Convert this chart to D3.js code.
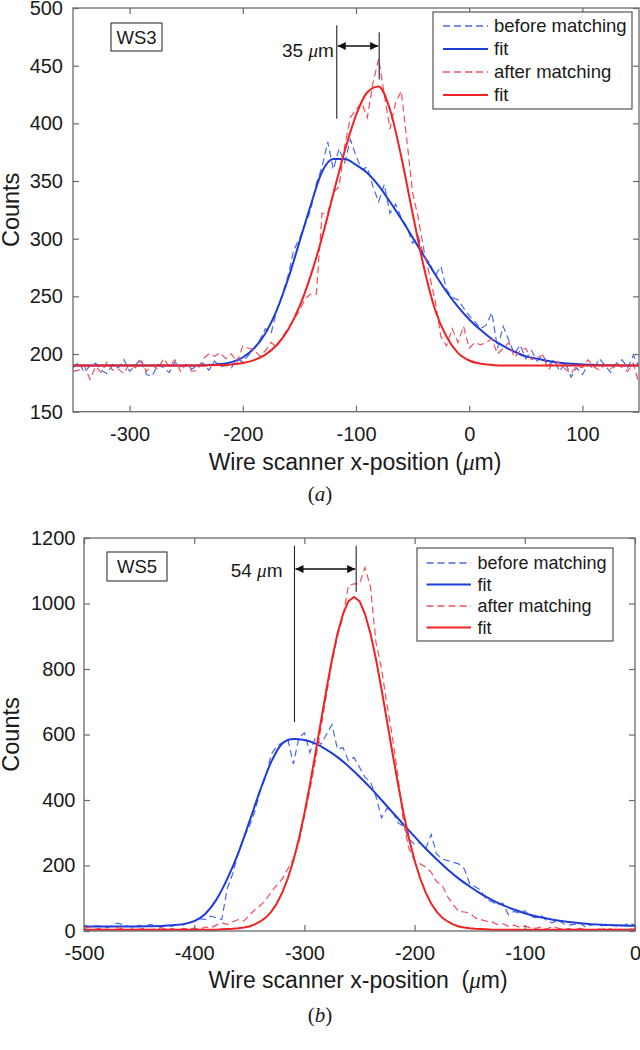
<!DOCTYPE html>
<html><head><meta charset="utf-8">
<script src="https://cdn.jsdelivr.net/npm/d3@7"></script>
<style>
body{margin:0;background:#fff;}
svg{display:block;font-family:"Liberation Sans",Arial,Helvetica,sans-serif;}
</style></head>
<body>
<svg id="chart" width="640" height="1050"></svg>
<script>
// ---------- Panel (a) WS3 ----------
const a_xStart = -350, a_step = 5;            // raw scan positions (µm)
const a_before = [
 188,193,184,190,192,186,183,191,188,195,
 185,190,196,182,181,191,188,184,193,189,
 191,187,190,192,186,194,189,190,188,196,
 193,199,205,212,222,218,238,252,268,290,
 300,312,325,348,362,384,360,378,366,386,
 372,360,362,345,332,347,322,330,318,310,
 296,302,285,279,268,276,256,249,247,240,
 233,228,222,225,236,205,224,212,200,208,
 196,203,194,199,190,195,185,193,180,188,
 182,191,187,196,190,184,192,195,188,199,
 189];
const a_after = [
 185,186,190,178,189,184,193,186,187,183,
 192,188,194,185,190,187,196,189,195,185,
 191,185,186,196,200,198,201,196,200,193,
 207,205,204,198,203,210,206,215,222,230,
 237,248,252,252,322,322,340,345,380,405,
 412,418,405,435,456,425,395,418,428,385,
 340,318,290,268,246,215,207,222,210,224,
 205,210,208,210,213,200,205,210,197,203,
 205,195,197,199,186,194,192,187,183,190,
 188,195,189,186,191,187,193,188,185,192,
 174];
const a_fitStart = -350, a_fitStep = 10;
const a_fitBefore = [
 190,190,190,190,190,190,190,190,190,190,190,190,
 190.5,191.3,193,197,205,218,238,265,297,329,358,369,369,364,357,346,332,317,301,285,269,254,241,
 230,221,213,207,202,198,196,194,192.5,191.6,191,190.6,190.3,190.2,190,190];
const a_fitAfter = [
 190,190,190,190,190,190,190,190,190,190,190,190,
 190.2,190.4,191,192.2,194.7,199.5,207.8,221,241,268,301,339,376,407,427,432,412,371,322,275,238,215,201,
 194.4,191.6,190.5,190,190,190,190,190,190,190,190,190,190,190,190,190];
const a_xTicks = [-300,-200,-100,0,100];
const a_yTicks = [150,200,250,300,350,400,450,500];
const a_peaks = [-117, -79.5];          // fitted centroids marked by the vertical lines
const a_peakTop = [485, 479];           // upper end of the marker lines (counts)
const a_peakBottom = [404, 438];        // lower end of the marker lines (counts)
const a_arrowY = 467, a_labelY = 457.5;

// ---------- Panel (b) WS5 ----------
const b_xStart = -500, b_step = 5;
const b_before = [
 18,12,16,14,10,15,24,20,14,12,
 17,13,20,16,12,18,14,22,18,26,
 30,38,35,45,40,35,130,175,240,285,
 320,365,430,470,540,565,575,585,510,590,
 605,545,590,570,600,630,555,560,520,530,
 500,470,455,410,345,375,365,330,320,280,
 265,270,250,295,235,220,215,210,205,190,
 145,135,125,95,90,80,85,50,60,55,
 62,45,40,48,30,25,35,22,18,20,
 25,12,18,20,16,22,18,14,17,24,
 18];
const b_after = [
 8,12,5,9,6,4,10,7,3,8,
 5,9,4,6,10,5,7,3,8,6,
 9,5,12,10,18,25,20,28,35,30,
 48,65,78,95,120,140,160,190,220,270,
 350,430,520,620,720,820,900,960,1055,1060,
 1060,1110,1050,880,800,690,590,470,330,250,
 215,205,195,180,150,140,105,80,60,58,
 55,40,35,30,28,20,22,15,18,12,
 15,10,8,12,6,14,9,5,7,4,
 8,6,3,7,5,9,4,6,3,7,
 5];
const b_fitBeforeStart = -500, b_fitBeforeStep = 10;
const b_fitBefore = [
 14,14,14,14,14,14,
 14.6,15.5,17.5,21,30,52,95,159,238,333,431,517,573,586,583,572,554,531,503,471,437,400,362,325,288,252,219,188,160,136,114,95,79,66,54,45,38,32,27.5,24,21,19,17.7,16.6,15.8];
const b_fitAfterStart = -500, b_fitAfterStep = 5;
const b_fitAfter = [
 4,4,4,4,4,4,4,4,4,4,4,4,4,4,4,4,4,4,4,4,4,4,4,4,4,
 5,6,7,8.5,10.6,14,20,29,41,59,84,118,161,215,281,359,447,542,640,738,829,908,968,1007,
 1020,1007,968,908,829,738,640,542,447,359,281,215,161,118,84,59,41,29,20,14,10.6,8.5,7,6,5,
 4,4,4,4,4,4,4,4,4,4,4,4,4,4,4,4,4,4,4,4,4,4,4,4,4,4,4];
const b_xTicks = [-500,-400,-300,-200,-100,0];
const b_yTicks = [0,200,400,600,800,1000,1200];
const b_peaks = [-309, -253];
const b_peakTop = [1176, 1176];
const b_peakBottom = [638, 1035];
const b_arrowY = 1105, b_labelY = 1081;

const legendLabels = ["before matching","fit","after matching","fit"];

// ---------- styles ----------
const C = {
  beforeDash: "#4a6ae4", beforeFit: "#1c3ddc",
  afterDash: "#f0505e", afterFit: "#f02222",
  frame: "#6a6a6a", text: "#1a1a1a"
};

const svg = d3.select("#chart");
const defs = svg.append("defs");
defs.append("marker").attr("id","arr").attr("viewBox","0 0 10 10")
  .attr("refX",10).attr("refY",5).attr("markerWidth",10).attr("markerHeight",8)
  .attr("markerUnits","userSpaceOnUse").attr("orient","auto-start-reverse")
  .append("path").attr("d","M0,0L10,5L0,10Z").attr("fill","#111");

const fmtTick = d => (d < 0 ? "-" + Math.abs(d) : String(d));

function panel(cfg, idx){
  const g = svg.append("g");
  const x = d3.scaleLinear().domain(cfg.xDomain).range([cfg.left, cfg.right]);
  const y = d3.scaleLinear().domain(cfg.yDomain).range([cfg.bottom, cfg.top]);

  defs.append("clipPath").attr("id","clip"+idx).append("rect")
    .attr("x",cfg.left).attr("y",cfg.top).attr("width",cfg.right-cfg.left).attr("height",cfg.bottom-cfg.top);

  const plot = g.append("g").attr("clip-path","url(#clip"+idx+")");
  const line = d3.line().x(d=>x(d[0])).y(d=>y(d[1]));
  const smooth = d3.line().x(d=>x(d[0])).y(d=>y(d[1])).curve(d3.curveMonotoneX);
  const pts = (vals, start, step) => vals.map((v,i)=>[start+i*step, v]);

  plot.append("path").datum(pts(cfg.before, cfg.xStart, cfg.step)).attr("d",line)
    .attr("fill","none").attr("stroke",C.beforeDash).attr("stroke-width",1.2).attr("stroke-dasharray","7,4");
  plot.append("path").datum(pts(cfg.fitBefore, cfg.fbStart, cfg.fbStep)).attr("d",smooth)
    .attr("fill","none").attr("stroke",C.beforeFit).attr("stroke-width",2);
  plot.append("path").datum(pts(cfg.after, cfg.xStart, cfg.step)).attr("d",line)
    .attr("fill","none").attr("stroke",C.afterDash).attr("stroke-width",1.2).attr("stroke-dasharray","7,4");
  plot.append("path").datum(pts(cfg.fitAfter, cfg.faStart, cfg.faStep)).attr("d",cfg.faSmooth?smooth:line)
    .attr("fill","none").attr("stroke",C.afterFit).attr("stroke-width",2);

  // frame
  g.append("rect").attr("x",cfg.left).attr("y",cfg.top)
    .attr("width",cfg.right-cfg.left).attr("height",cfg.bottom-cfg.top)
    .attr("fill","none").attr("stroke",C.frame).attr("stroke-width",1.3);

  // axes
  const styleAxis = sel => { sel.select(".domain").remove();
    sel.selectAll(".tick line").attr("stroke",C.frame).attr("stroke-width",1.2);
    sel.selectAll("text").attr("fill",C.text).style("font-size","20px")
      .style("font-family",'"Liberation Sans",Arial,sans-serif'); };
  g.append("g").attr("transform",`translate(0,${cfg.bottom})`)
    .call(d3.axisBottom(x).tickValues(cfg.xTicks).tickSize(-6).tickPadding(15).tickFormat(fmtTick))
    .call(styleAxis);
  g.append("g").attr("transform",`translate(0,${cfg.top})`)
    .call(d3.axisTop(x).tickValues(cfg.xTicks).tickSize(-6).tickFormat(()=>""))
    .call(styleAxis);
  g.append("g").attr("transform",`translate(${cfg.left},0)`)
    .call(d3.axisLeft(y).tickValues(cfg.yTicks).tickSize(-6).tickPadding(cfg.yPad).tickFormat(fmtTick))
    .call(styleAxis);
  g.append("g").attr("transform",`translate(${cfg.right},0)`)
    .call(d3.axisRight(y).tickValues(cfg.yTicks).tickSize(-6).tickFormat(()=>""))
    .call(styleAxis);

  // axis titles
  g.append("text").attr("transform",`translate(19,${(cfg.top+cfg.bottom)/2}) rotate(-90)`)
    .attr("text-anchor","middle").attr("fill",C.text).style("font-size","23.5px").text("Counts");
  const xt = g.append("text").attr("x",cfg.xTitleX).attr("y",cfg.xTitleY)
    .attr("text-anchor","middle").attr("fill",C.text).style("font-size","23px")
    .attr("xml:space","preserve");
  xt.append("tspan").text(cfg.xTitleText);
  xt.append("tspan").style("font-family",'"Liberation Serif","Times New Roman",serif').style("font-style","italic").text("\u03bc");
  xt.append("tspan").text("m)");

  // caption (a)/(b)
  const cap = g.append("text").attr("x",320).attr("y",cfg.captionY).attr("text-anchor","middle")
    .attr("fill",C.text).style("font-family",'"Liberation Serif","Times New Roman",serif').style("font-size","21px");
  cap.append("tspan").text("(");
  cap.append("tspan").style("font-style","italic").text(cfg.caption);
  cap.append("tspan").text(")");

  // WS box
  g.append("rect").attr("x",cfg.left+cfg.box[0]).attr("y",cfg.top+cfg.box[1])
    .attr("width",cfg.box[2]).attr("height",cfg.box[3]).attr("fill","#fff")
    .attr("stroke","#333").attr("stroke-width",1.1);
  g.append("text").attr("x",cfg.left+cfg.box[0]+cfg.box[2]/2).attr("y",cfg.top+cfg.box[1]+cfg.box[3]/2)
    .attr("dy","0.36em").attr("text-anchor","middle").attr("fill",C.text).style("font-size","18.5px").text(cfg.wsLabel);

  // centroid markers and arrow
  cfg.peaks.forEach((p,i)=>{
    g.append("line").attr("x1",x(p)).attr("x2",x(p)).attr("y1",y(cfg.peakTop[i])).attr("y2",y(cfg.peakBottom[i]))
      .attr("stroke","#222").attr("stroke-width",1.1);
  });
  g.append("line").attr("x1",x(cfg.peaks[0])+1).attr("x2",x(cfg.peaks[1])-1)
    .attr("y1",y(cfg.arrowY)).attr("y2",y(cfg.arrowY)).attr("stroke","#111").attr("stroke-width",1.5)
    .attr("marker-start","url(#arr)").attr("marker-end","url(#arr)");
  const at = g.append("text").attr("x",x(cfg.peaks[0])-cfg.labelGap).attr("y",y(cfg.labelY))
    .attr("text-anchor","end").attr("fill",C.text).style("font-size","19px").attr("xml:space","preserve");
  at.append("tspan").text(cfg.shift+" ");
  at.append("tspan").style("font-family",'"Liberation Serif","Times New Roman",serif').style("font-style","italic").text("\u03bc");
  at.append("tspan").text("m");

  // legend
  const L = cfg.legend;
  g.append("rect").attr("x",L.x).attr("y",L.y).attr("width",L.w).attr("height",L.h)
    .attr("fill","#fff").attr("stroke","#444").attr("stroke-width",1.1);
  const styles = [[C.beforeDash,"7,4",1.4],[C.beforeFit,null,2.2],[C.afterDash,"7,4",1.4],[C.afterFit,null,2.2]];
  legendLabels.forEach((lab,i)=>{
    const yy = L.y + L.r0 + i*L.dr;
    const ln = g.append("line").attr("x1",L.x+L.l0).attr("x2",L.x+L.l1).attr("y1",yy).attr("y2",yy)
      .attr("stroke",styles[i][0]).attr("stroke-width",styles[i][2]);
    if(styles[i][1]) ln.attr("stroke-dasharray",styles[i][1]);
    g.append("text").attr("x",L.x+L.tx).attr("y",yy).attr("dy","0.35em").attr("fill",C.text)
      .style("font-size",L.fs+"px").text(lab);
  });
}

panel({
  xDomain:[-350,150], yDomain:[150,500], left:73, right:639, top:8, bottom:411.7,
  before:a_before, after:a_after, xStart:a_xStart, step:a_step,
  fitBefore:a_fitBefore, fbStart:a_fitStart, fbStep:a_fitStep,
  fitAfter:a_fitAfter, faStart:a_fitStart, faStep:a_fitStep, faSmooth:true,
  xTicks:a_xTicks, yTicks:a_yTicks, yPad:10,
  xTitleX:355, xTitleY:470, xTitleText:"Wire scanner x-position (",
  caption:"a", captionY:501,
  box:[38,15,51,28], wsLabel:"WS3",
  peaks:a_peaks, peakTop:a_peakTop, peakBottom:a_peakBottom, arrowY:a_arrowY, labelY:a_labelY, labelGap:3, shift:"35",
  legend:{x:433,y:12,w:199,h:97,r0:14,dr:23,l0:10,l1:55,tx:61,fs:18.5}
},0);

panel({
  xDomain:[-500,0], yDomain:[0,1200], left:84, right:635, top:538, bottom:931,
  before:b_before, after:b_after, xStart:b_xStart, step:b_step,
  fitBefore:b_fitBefore, fbStart:b_fitBeforeStart, fbStep:b_fitBeforeStep,
  fitAfter:b_fitAfter, faStart:b_fitAfterStart, faStep:b_fitAfterStep, faSmooth:false,
  xTicks:b_xTicks, yTicks:b_yTicks, yPad:8.5,
  xTitleX:358, xTitleY:988, xTitleText:"Wire scanner x-position  (",
  caption:"b", captionY:1022,
  box:[23,14,60,29], wsLabel:"WS5",
  peaks:b_peaks, peakTop:b_peakTop, peakBottom:b_peakBottom, arrowY:b_arrowY, labelY:b_labelY, labelGap:12, shift:"54",
  legend:{x:417,y:548,w:196,h:93,r0:15,dr:21.5,l0:9.5,l1:54,tx:60.5,fs:18}
},1);
</script>
</body></html>
